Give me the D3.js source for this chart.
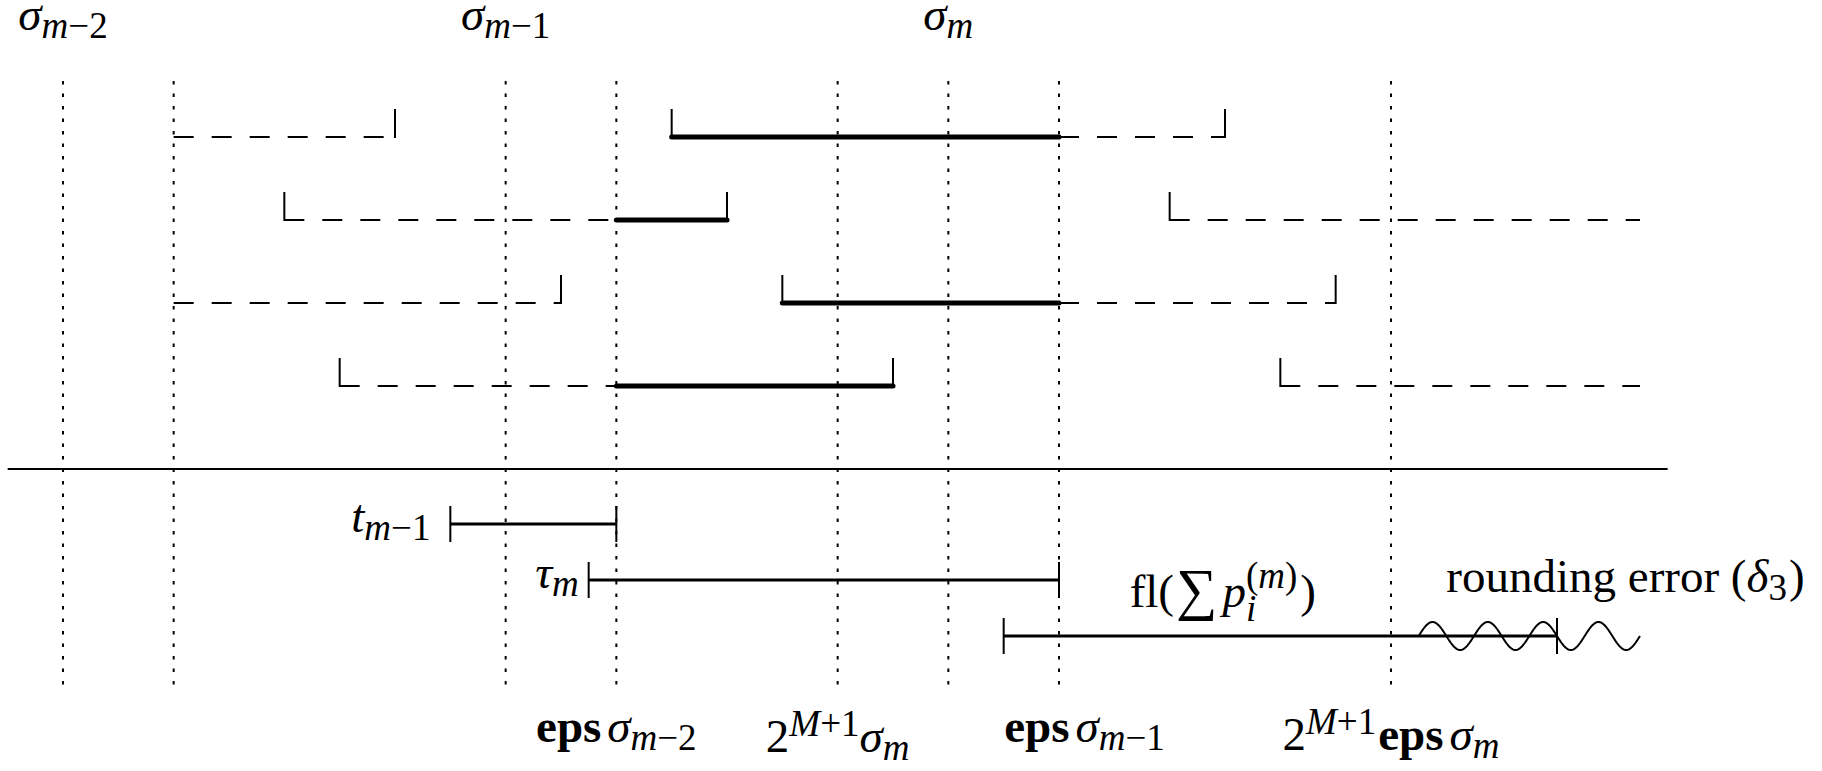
<!DOCTYPE html>
<html>
<head>
<meta charset="utf-8">
<script src="https://cdn.jsdelivr.net/npm/d3@7"></script>
<style>
    body { margin: 0; background: #fff; }
    svg { display: block; }
</style>
</head>
<body>
<script>
(function() {

    var width = 1822,
        height = 771;

    // dotted guide lines, in grid units
    var guides = [0, 1, 4, 5, 7, 8, 9, 12];

    // bracketed intervals in the four upper rows
    // [row, start, end, solidFrom, solidTo, leftTick, rightTick]
    var rowIntervals = [
        [0, 1, 3, null, null, false, true],
        [0, 5.5, 10.5, 5.5, 9, true, true],
        [1, 2, 6, 5, 6, true, true],
        [1, 10, 14.25, null, null, true, false],
        [2, 1, 4.5, null, null, false, true],
        [2, 6.5, 11.5, 6.5, 9, true, true],
        [3, 2.5, 7.5, 5, 7.5, true, true],
        [3, 11, 14.25, null, null, true, false]
    ];

    // the three error bars under the rule: [bar, start, end]
    var bars = [
        [0, 3.5, 5],
        [1, 4.75, 9],
        [2, 8.5, 13.5]
    ];

    // wavy rounding error on bar 2
    var wave = { bar: 2, start: 12.25, end: 14.25, period: 0.5 };

    // labels: [anchor unit, parts] ; part = [text, font, level, options]
    var topLabels = [
        [0, [["σ", "it"], ["m", "it", -1], ["−2", "rm", -1]]],
        [4, [["σ", "it"], ["m", "it", -1], ["−1", "rm", -1]]],
        [8, [["σ", "it"], ["m", "it", -1]]]
    ];

    var bottomLabels = [
        [5, 0, [["eps", "tt"], ["σ", "it", 0, {gap: 6}], ["m", "it", -1], ["−2", "rm", -1]]],
        [7, 10, [["2", "rm"], ["M", "it", 1], ["+1", "rm", 1], ["σ", "it"], ["m", "it", -1]]],
        [9.23, 0, [["eps", "tt"], ["σ", "it", 0, {gap: 6}], ["m", "it", -1], ["−1", "rm", -1]]],
        [12, 8, [["2", "rm"], ["M", "it", 1], ["+1", "rm", 1], ["eps", "tt", 0, {gap: 2}], ["σ", "it", 0, {gap: 6}], ["m", "it", -1]]]
    ];

    var barLabels = [
        [0, 3.32, "end", [["t", "it"], ["m", "it", -1], ["−1", "rm", -1]]],
        [1, 4.66, "end", [["τ", "it"], ["m", "it", -1]]]
    ];

    var flLabel = [10.48, [["fl(", "rm"], ["∑", "big", 0, {gap: 2}], ["p", "it", 0, {gap: 5}],
                           ["i", "it", -1, {low: true}], ["(", "rm", 1, {stack: true, high: true}],
                           ["m", "it", 1, {high: true}], [")", "rm", 1, {high: true}], [")", "rm", 0, {gap: 3}]]];
    var roundLabel = [12.5, [["rounding error (", "rm"], ["δ", "it"], ["3", "rm", -1], [")", "rm", 0, {gap: 2}]]];

    // scales
    var x = d3.scaleLinear().domain([0, 12]).range([63, 1391]);
    var yRow = d3.scaleLinear().domain([0, 3]).range([137, 386]);
    var yBar = d3.scaleLinear().domain([0, 2]).range([524, 636]);

    var svg = d3.select("body")
        .append("svg")
        .attr("width", width)
        .attr("height", height);

    var F = 47, FS = 37, FT = 47;

    // lays out a little formula piece by piece, measuring as it goes
    var mathLabel = function(parts, px, py, anchor) {
        var g = svg.append("g");
        var cx = 0, prevStart = 0;
        parts.forEach(function(p) {
            var txt = p[0], font = p[1], lvl = p[2] || 0, opt = p[3] || {};
            if (opt.gap) cx += opt.gap;
            var sx = opt.stack ? prevStart : cx;
            var shift = 0;
            if (lvl < 0) shift = opt.low ? 14 : 8;
            if (lvl > 0) shift = opt.high ? -19 : -16;
            var t = g.append("text")
                .attr("x", sx)
                .attr("y", shift)
                .attr("fill", "#000")
                .attr("font-family", "'Liberation Serif', serif")
                .text(txt);
            if (font === "tt") {
                t.attr("font-weight", "bold")
                    .attr("font-size", FT);
            } else if (font === "big") {
                t.attr("font-size", 58)
                    .attr("y", 2);
            } else {
                t.attr("font-style", font === "it" ? "italic" : "normal")
                    .attr("font-size", lvl === 0 ? F : FS);
            }
            var w = t.node().getComputedTextLength();
            prevStart = sx;
            cx = Math.max(cx, sx + w);
        });
        var ox = px;
        if (anchor === "middle") ox = px - cx / 2;
        if (anchor === "end") ox = px - cx;
        g.attr("transform", "translate(" + ox + "," + py + ")");
        return g;
    };

    // dotted guides
    svg.selectAll("line.guide").data(guides).enter()
        .append("line")
        .attr("class", "guide")
        .attr("x1", function(d) { return x(d); })
        .attr("x2", function(d) { return x(d); })
        .attr("y1", 81)
        .attr("y2", 690)
        .attr("stroke", "#000")
        .attr("stroke-width", 2)
        .attr("stroke-dasharray", "3.5,9");

    // dashed part of each interval
    var dashPieces = [];
    rowIntervals.forEach(function(d) {
        if (d[3] === null) {
            dashPieces.push([d[0], d[1], d[2]]);
        } else {
            if (d[3] > d[1]) dashPieces.push([d[0], d[1], d[3]]);
            if (d[4] < d[2]) dashPieces.push([d[0], d[4], d[2]]);
        }
    });

    svg.selectAll("line.dash").data(dashPieces).enter()
        .append("line")
        .attr("class", "dash")
        .attr("x1", function(d) { return x(d[1]); })
        .attr("x2", function(d) { return x(d[2]); })
        .attr("y1", function(d) { return yRow(d[0]); })
        .attr("y2", function(d) { return yRow(d[0]); })
        .attr("stroke", "#000")
        .attr("stroke-width", 2)
        .attr("stroke-dasharray", "20,18");

    svg.selectAll("line.solid").data(rowIntervals.filter(function(d) { return d[3] !== null; })).enter()
        .append("line")
        .attr("class", "solid")
        .attr("x1", function(d) { return x(d[3]); })
        .attr("x2", function(d) { return x(d[4]); })
        .attr("y1", function(d) { return yRow(d[0]); })
        .attr("y2", function(d) { return yRow(d[0]); })
        .attr("stroke", "#000")
        .attr("stroke-width", 5)
        .attr("stroke-linecap", "round");

    // little upright ticks on the ends of the intervals
    var rowTicks = [];
    rowIntervals.forEach(function(d) {
        if (d[5]) rowTicks.push([d[0], d[1]]);
        if (d[6]) rowTicks.push([d[0], d[2]]);
    });

    svg.selectAll("line.rtick").data(rowTicks).enter()
        .append("line")
        .attr("class", "rtick")
        .attr("x1", function(d) { return x(d[1]); })
        .attr("x2", function(d) { return x(d[1]); })
        .attr("y1", function(d) { return yRow(d[0]) + 1; })
        .attr("y2", function(d) { return yRow(d[0]) - 28; })
        .attr("stroke", "#000")
        .attr("stroke-width", 2);

    // the rule
    svg.append("line")
        .attr("x1", x(-0.5))
        .attr("x2", x(14.5))
        .attr("y1", 469)
        .attr("y2", 469)
        .attr("stroke", "#000")
        .attr("stroke-width", 2);

    // error bars
    svg.selectAll("line.bar").data(bars).enter()
        .append("line")
        .attr("class", "bar")
        .attr("x1", function(d) { return x(d[1]); })
        .attr("x2", function(d) { return x(d[2]); })
        .attr("y1", function(d) { return yBar(d[0]); })
        .attr("y2", function(d) { return yBar(d[0]); })
        .attr("stroke", "#000")
        .attr("stroke-width", 3);

    var barTicks = [];
    bars.forEach(function(d) {
        barTicks.push([d[0], d[1]]);
        barTicks.push([d[0], d[2]]);
    });

    svg.selectAll("line.btick").data(barTicks).enter()
        .append("line")
        .attr("class", "btick")
        .attr("x1", function(d) { return x(d[1]); })
        .attr("x2", function(d) { return x(d[1]); })
        .attr("y1", function(d) { return yBar(d[0]) - 18; })
        .attr("y2", function(d) { return yBar(d[0]) + 18; })
        .attr("stroke", "#000")
        .attr("stroke-width", 2);

    // wave glyph
    var wy = yBar(wave.bar);
    var wavePts = d3.range(wave.start, wave.end + 0.0001, 0.01).map(function(u) {
        return [x(u), wy - 14 * Math.sin(2 * Math.PI * (u - wave.start) / wave.period)];
    });
    svg.append("path")
        .attr("d", d3.line()(wavePts))
        .attr("fill", "none")
        .attr("stroke", "#000")
        .attr("stroke-width", 2);

    // labels
    topLabels.forEach(function(d) {
        mathLabel(d[1], x(d[0]), 30, "middle");
    });

    bottomLabels.forEach(function(d) {
        mathLabel(d[2], x(d[0]), 742 + d[1], "middle");
    });

    barLabels.forEach(function(d) {
        mathLabel(d[3], x(d[1]), yBar(d[0]) + 8, d[2]);
    });

    mathLabel(flLabel[1], x(flLabel[0]), 607, "middle");
    mathLabel(roundLabel[1], x(roundLabel[0]), 592, "start");

})();
</script>
</body>
</html>
